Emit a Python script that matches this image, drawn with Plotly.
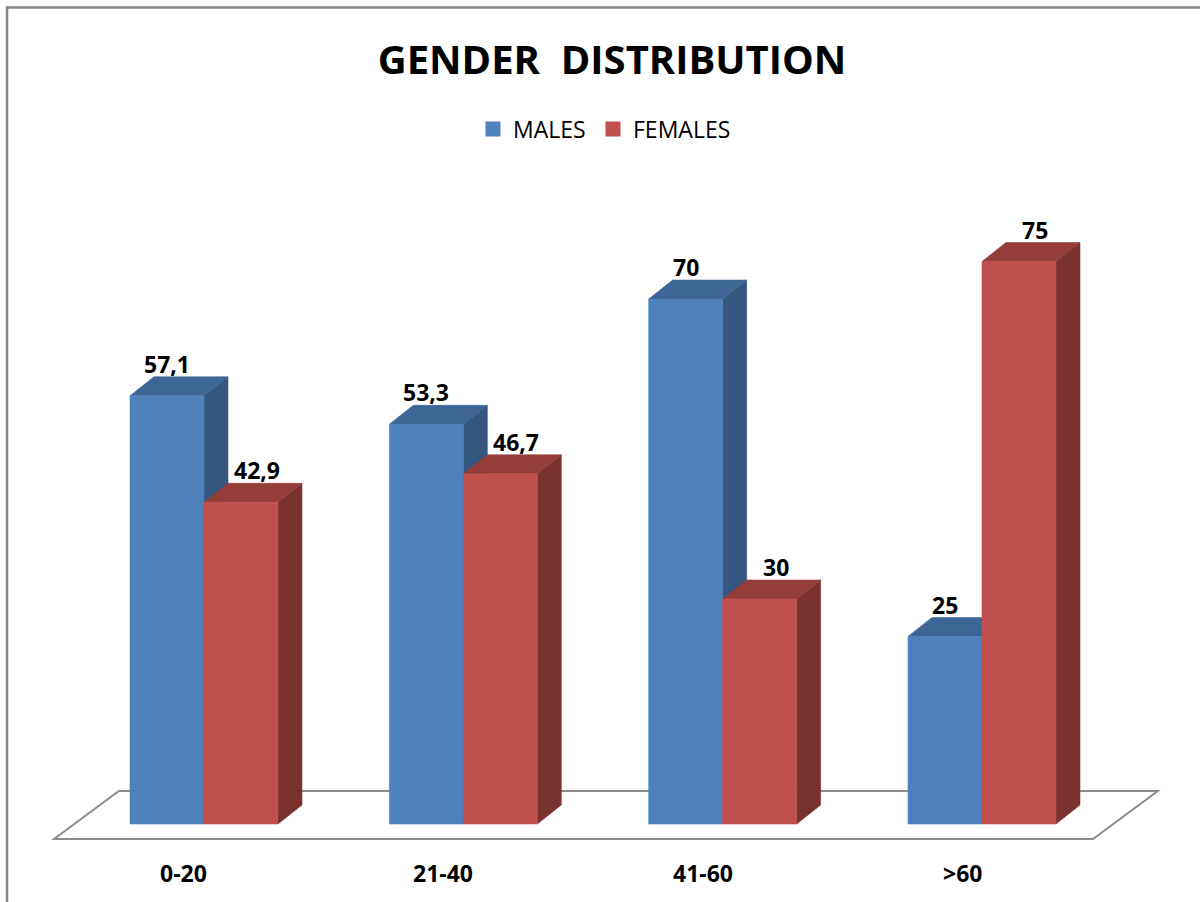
import plotly.graph_objects as go

# ---- data ----
categories = ["0-20", "21-40", "41-60", ">60"]
males = [57.1, 53.3, 70, 25]
females = [42.9, 46.7, 30, 75]
male_labels = ["57,1", "53,3", "70", "25"]
female_labels = ["42,9", "46,7", "30", "75"]

# ---- style ----
BAR_W = 0.2853      # bar width in category units
DX = 0.0925         # 3D depth offset (x, category units)
DY = 2.53           # 3D depth offset (y, value units)
FONT = "Open Sans"

series = [
    dict(name="MALES", vals=males, labels=male_labels, offset=-BAR_W,
         front="#4F81BD", top="#3D6696", side="#34567F", lxshift=0,
         legend="legend", legend_text_x=513),
    dict(name="FEMALES", vals=females, labels=female_labels, offset=0.0,
         front="#C0504D", top="#943D3B", side="#7A3231", lxshift=16,
         legend="legend2", legend_text_x=633),
]

fig = go.Figure()

def add_faces(xs, ys, color):
    fig.add_trace(go.Scatter(x=xs, y=ys, mode="lines", fill="toself",
                             fillcolor=color, line=dict(color=color, width=0.6),
                             hoverinfo="skip", showlegend=False))

for s in series:
    fx, fy, tx, ty, sx, sy = [], [], [], [], [], []
    for i, v in enumerate(s["vals"]):
        x0 = i + s["offset"]
        x1 = x0 + BAR_W
        fx += [x0, x1, x1, x0, x0, None]
        fy += [0, 0, v, v, 0, None]
        tx += [x0, x1, x1 + DX, x0 + DX, x0, None]
        ty += [v, v, v + DY, v + DY, v, None]
        sx += [x1, x1 + DX, x1 + DX, x1, x1, None]
        sy += [0, DY, v + DY, v, 0, None]
    add_faces(sx, sy, s["side"])
    add_faces(tx, ty, s["top"])
    add_faces(fx, fy, s["front"])

# legend entries (one legend box per series for precise placement)
for s in series:
    fig.add_trace(go.Scatter(x=[None], y=[None], mode="markers", name=s["name"],
                             legend=s["legend"],
                             marker=dict(symbol="square", size=15, color=s["front"])))

# data labels
for s in series:
    for i, (v, t) in enumerate(zip(s["vals"], s["labels"])):
        fig.add_annotation(x=i + s["offset"] + BAR_W / 2, y=v + DY, text=f"<b>{t}</b>",
                           showarrow=False, xanchor="center", yanchor="bottom",
                           xshift=s["lxshift"], yshift=-5,
                           font=dict(family=FONT, size=23, color="black"))

# category labels
for i, c in enumerate(categories):
    fig.add_annotation(x=i, y=0, text=f"<b>{c}</b>", showarrow=False,
                       xanchor="center", yanchor="middle", xshift=-20, yshift=-49,
                       font=dict(family=FONT, size=23, color="black"))

# floor (decorative)
n = len(categories)
fl, fr = -0.578, (n - 1) + 0.428
fy0, fdx, fdy = -2.0, 0.25, 6.4
fig.add_shape(type="path",
              path=f"M {fl},{fy0} L {fr},{fy0} L {fr+fdx},{fy0+fdy} L {fl+fdx},{fy0+fdy} Z",
              line=dict(color="#8C8C8C", width=2), fillcolor="white", layer="below")

# outer border
fig.add_shape(type="rect", xref="paper", yref="paper",
              x0=7 / 1200, y0=-0.05, x1=1.05, y1=1 - 7.5 / 902,
              line=dict(color="#868686", width=2.5))

legend_style = dict(orientation="h", xanchor="left", y=1 - 129 / 902, yanchor="middle",
                    font=dict(family=FONT, size=23, color="black"),
                    bgcolor="rgba(0,0,0,0)")

fig.update_layout(
    width=1200, height=902,
    margin=dict(l=0, r=0, t=0, b=0),
    paper_bgcolor="white", plot_bgcolor="white",
    title=dict(text="<b>GENDER  DISTRIBUTION</b>", x=612 / 1200, xanchor="center",
               y=1 - 60 / 902, yanchor="middle",
               font=dict(family=FONT, size=40, color="black")),
    legend=dict(x=(series[0]["legend_text_x"] - 40) / 1200, **legend_style),
    legend2=dict(x=(series[1]["legend_text_x"] - 40) / 1200, **legend_style),
    xaxis=dict(range=[-0.7866, 3.8406], visible=False, fixedrange=True),
    yaxis=dict(range=[-10.4, 109.87], visible=False, fixedrange=True),
    showlegend=True,
)

fig.write_html("out.html")
